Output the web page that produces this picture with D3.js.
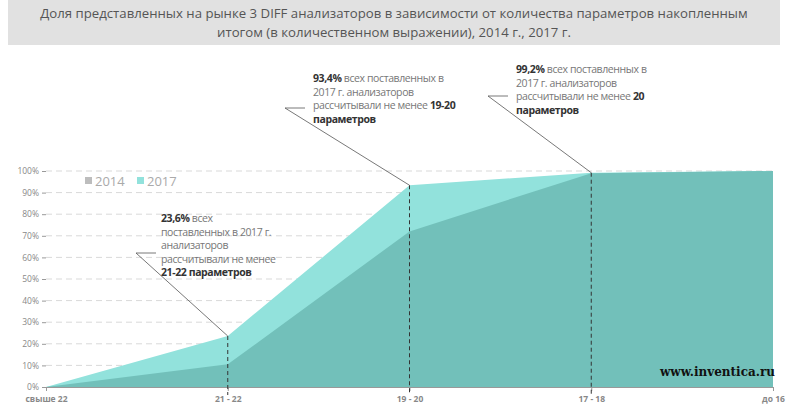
<!DOCTYPE html>
<html><head><meta charset="utf-8">
<script src="https://cdn.jsdelivr.net/npm/d3@7"></script>
<style>body{margin:0;background:#fff}</style>
</head><body>
<svg width="803" height="414"></svg>
<script>
const categories = ['свыше 22', '21 - 22', '19 - 20', '17 - 18', 'до 16']
const values2014 = [0, 10.5, 72, 99, 100]
const values2017 = [0, 23.6, 93.4, 99.2, 100]
const yTicks = [0, 10, 20, 30, 40, 50, 60, 70, 80, 90, 100]

const svg = d3.select('svg')
const font = 'Open Sans, sans-serif'

// title
svg.append('rect').attr('x', 8).attr('y', 0).attr('width', 772).attr('height', 45).attr('fill', '#e1e1e1')
const title = ['Доля представленных на рынке 3 DIFF анализаторов в зависимости от количества параметров накопленным',
  'итогом (в количественном выражении), 2014 г., 2017 г.']
title.forEach((t, i) => svg.append('text').attr('x', 394).attr('y', 18 + i * 19).attr('text-anchor', 'middle')
  .attr('font-family', font).attr('font-size', 13.2).attr('fill', '#555').text(t))

const x = d3.scalePoint().domain(categories).range([46, 773])
const y = d3.scaleLinear().domain([0, 100]).range([387, 171])

// grid
svg.append('g').selectAll('line').data(yTicks.slice(1)).join('line')
  .attr('x1', 46).attr('x2', 773).attr('y1', d => y(d)).attr('y2', d => y(d))
  .attr('stroke', '#d9d9d9').attr('stroke-dasharray', '6,4')

const area = d3.area().x((d, i) => x(categories[i])).y0(y(0)).y1(d => y(d))
svg.append('path').datum(values2017).attr('d', area).attr('fill', '#92e2dc')
svg.append('path').datum(values2014).attr('d', area).attr('fill', '#72c0ba')

// axes
const yAxis = svg.append('g').attr('transform', 'translate(46,0)')
  .call(d3.axisLeft(y).tickValues(yTicks).tickFormat(d => d + '%').tickSize(4))
yAxis.select('.domain').remove()
yAxis.selectAll('line').attr('stroke', '#999')
yAxis.selectAll('text').attr('font-family', font).attr('font-size', 8.5).attr('fill', '#888')

const xAxis = svg.append('g').attr('transform', 'translate(0,387)')
  .call(d3.axisBottom(x).tickSize(4).tickSizeOuter(0))
xAxis.select('.domain').attr('stroke', '#999')
xAxis.selectAll('line').attr('stroke', '#999')
xAxis.selectAll('text').attr('font-family', font).attr('font-size', 8.5).attr('font-weight', 'bold').attr('fill', '#888').attr('dy', '0.9em')

// dashed markers
;[1, 2, 3].forEach(i => {
  svg.append('line').attr('x1', x(categories[i])).attr('x2', x(categories[i]))
    .attr('y1', y(values2017[i])).attr('y2', y(0) + 8)
    .attr('stroke', '#333').attr('stroke-dasharray', '4,3')
})

// annotations
const notes = [
  {i: 1, hx: 136, hy: 253, tx: 161, ty: 222, lines: [[['23,6%', 1], [' всех', 0]], [['поставленных в 2017 г.', 0]], [['анализаторов', 0]], [['рассчитывали не менее', 0]], [['21-22 параметров', 1]]]},
  {i: 2, hx: 285, hy: 108, tx: 313, ty: 82, lines: [[['93,4%', 1], [' всех поставленных в', 0]], [['2017 г. анализаторов', 0]], [['рассчитывали не менее ', 0], ['19-20', 1]], [['параметров', 1]]]},
  {i: 3, hx: 488, hy: 96, tx: 516, ty: 73, lines: [[['99,2%', 1], [' всех поставленных в', 0]], [['2017 г. анализаторов', 0]], [['рассчитывали не менее ', 0], ['20', 1]], [['параметров', 1]]]}
]
notes.forEach(n => {
  svg.append('polyline').attr('fill', 'none').attr('stroke', '#555').attr('stroke-width', 0.8)
    .attr('points', `${n.hx + 20},${n.hy} ${n.hx},${n.hy} ${x(categories[n.i])},${y(values2017[n.i])}`)
  n.lines.forEach((ln, k) => {
    const t = svg.append('text').attr('x', n.tx).attr('y', n.ty + k * 13.5)
      .attr('font-family', font).attr('font-size', 10.5).attr('letter-spacing', -0.4)
    ln.forEach(([s, b]) => t.append('tspan').text(s).attr('font-weight', b ? 'bold' : 'normal').attr('fill', b ? '#333' : '#777'))
  })
})

// legend
const legend = [['2014', '#bdbdbd'], ['2017', '#92e2dc']]
legend.forEach(([l, c], i) => {
  const lx = 85 + i * 52
  svg.append('rect').attr('x', lx).attr('y', 177).attr('width', 7).attr('height', 7).attr('fill', c)
  svg.append('text').attr('x', lx + 10).attr('y', 186).attr('font-family', font).attr('font-size', 13).attr('fill', '#aaa').text(l)
})

svg.append('text').attr('x', 660).attr('y', 376).attr('font-family', 'DejaVu Serif, serif').attr('font-weight', 'bold')
  .attr('font-size', 12).attr('fill', '#111').text('www.inventica.ru')
</script>
</body></html>
